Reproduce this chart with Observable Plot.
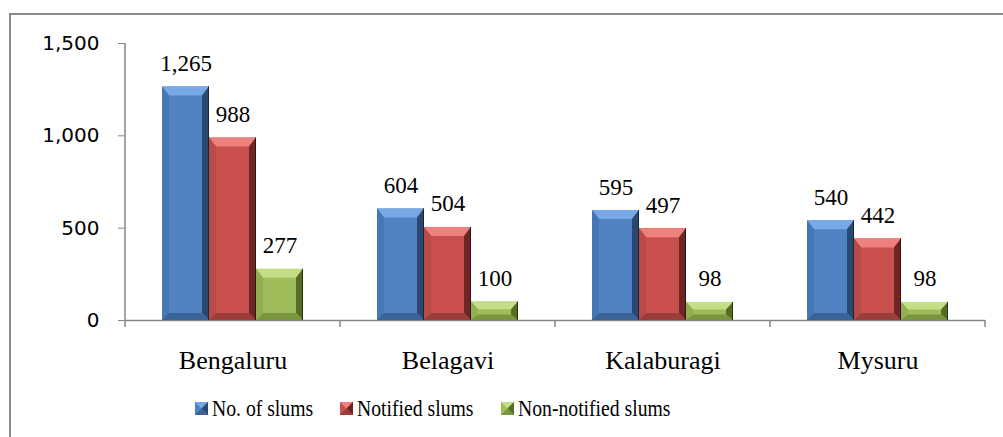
<!DOCTYPE html>
<html>
<head>
<meta charset="utf-8">
<script src="https://cdn.jsdelivr.net/npm/d3@7"></script>
<script src="https://cdn.jsdelivr.net/npm/@observablehq/plot@0.6"></script>
<style>
  body { margin: 0; background: #fff; }
  #wrap { position: relative; width: 1003px; height: 437px; overflow: hidden; background: #fff; }
  #border { position: absolute; left: 9px; top: 13px; width: 1200px; height: 700px; border: 2px solid #8c8c8c; box-sizing: border-box; }
  #chart { position: absolute; left: 0; top: 0; }
  #legend { position: absolute; left: 0; top: 395px; width: 1003px; height: 26px; display: flex; align-items: center; padding-left: 195px; box-sizing: border-box;
            font-family: "Liberation Serif", "Times New Roman", serif; font-size: 24px; color: #000; line-height: 1; }
  .item { display: inline-flex; align-items: center; margin-right: 27px; white-space: nowrap; }
  .item svg { margin-right: 4px; }
  .item span { display: inline-block; transform: scaleX(0.82); transform-origin: left center; }
</style>
</head>
<body>
<div id="wrap">
  <div id="border"></div>
  <div id="chart"></div>
  <div id="legend"></div>
</div>
<script>
// ---- data ----
const cities = ["Bengaluru", "Belagavi", "Kalaburagi", "Mysuru"];
const seriesNames = ["No. of slums", "Notified slums", "Non-notified slums"];
const totalSlums = [1265, 604, 595, 540];
const notifiedSlums = [988, 504, 497, 442];
const nonNotifiedSlums = [277, 100, 98, 98];
const yTicks = [0, 500, 1000, 1500];

const seriesValues = [totalSlums, notifiedSlums, nonNotifiedSlums];
const table = [];
cities.forEach((c, ci) => seriesNames.forEach((s, si) => table.push({city: c, series: s, value: seriesValues[si][ci]})));

// ---- styles ----
const faceColors = ["#5183c4", "#c9504d", "#9ebd5a"];
const shades = {
  "#5183c4": {top: "#78a8e6", left: "#4676b3", right: "#2a4870", edge: "#16263c", bottom: "#3c6396"},
  "#c9504d": {top: "#ee807d", left: "#b84a47", right: "#6e2624", edge: "#351110", bottom: "#9a3e3c"},
  "#9ebd5a": {top: "#c3de86", left: "#91af51", right: "#566c25", edge: "#2a3510", bottom: "#7a9540"}
};
const axisGray = "#868686";
const fmt = d3.format(",");

function bevel(index, scales, values, dimensions, context, next) {
  const g = next(index, scales, values, dimensions, context);
  const ns = "http://www.w3.org/2000/svg";
  const rects = Array.from(g.querySelectorAll("rect"));
  for (const r of rects) {
    const x = +r.getAttribute("x"), y = +r.getAttribute("y");
    const w = +r.getAttribute("width"), h = +r.getAttribute("height");
    const sh = shades[r.getAttribute("fill")];
    if (!sh) continue;
    const bs = Math.min(7, w / 4), bt = Math.min(9, h * 0.42), bb = Math.min(7, h * 0.3);
    const polys = [
      [[x, y], [x + w, y], [x + w - bs, y + bt], [x + bs, y + bt], sh.top],
      [[x, y], [x + bs, y + bt], [x + bs, y + h - bb], [x, y + h], sh.left],
      [[x + w, y], [x + w, y + h], [x + w - bs, y + h - bb], [x + w - bs, y + bt], sh.right],
      [[x, y + h], [x + bs, y + h - bb], [x + w - bs, y + h - bb], [x + w, y + h], sh.bottom]
    ];
    let after = r;
    for (const p of polys) {
      const el = document.createElementNS(ns, "polygon");
      el.setAttribute("points", p.slice(0, 4).map(q => q.join(",")).join(" "));
      el.setAttribute("fill", p[4]);
      after.after(el); after = el;
    }
    const edge = document.createElementNS(ns, "line");
    edge.setAttribute("x1", x + w - 0.5); edge.setAttribute("x2", x + w - 0.5);
    edge.setAttribute("y1", y); edge.setAttribute("y2", y + h);
    edge.setAttribute("stroke", sh.edge); edge.setAttribute("stroke-width", 1);
    after.after(edge);
  }
  return g;
}

const chart = Plot.plot({
  width: 1003,
  height: 385,
  marginLeft: 125,
  marginRight: 18,
  marginTop: 43,
  marginBottom: 65,
  style: {background: "transparent", overflow: "visible"},
  fx: {domain: cities, padding: 0, label: null},
  x: {domain: seriesNames, paddingInner: 0, paddingOuter: 0.74, axis: null},
  y: {domain: [0, 1500], axis: null},
  color: {domain: seriesNames, range: faceColors},
  marks: [
    Plot.ruleY([0], {stroke: axisGray, strokeWidth: 1.5}),
    Plot.barY(table, {fx: "city", x: "series", y: "value", fill: "series", render: bevel}),
    Plot.text(table, {fx: "city", x: "series", y: "value", text: d => fmt(d.value), lineAnchor: "bottom", dy: -16,
      fontFamily: "Liberation Serif, Times New Roman, serif", fontSize: 23, fill: "#000"}),
    Plot.axisY({ticks: yTicks, tickFormat: fmt, tickSize: 7, tickPadding: 19, fontSize: 20,
      fontFamily: "DejaVu Sans, sans-serif", stroke: axisGray, fill: "#000", label: null}),
    Plot.axisFx({anchor: "bottom", tickSize: 0, tickPadding: 30, fontSize: 26,
      fontFamily: "Liberation Serif, Times New Roman, serif", fill: "#000", label: null})
  ]
});
document.getElementById("chart").appendChild(chart);

// axis lines and category boundary ticks, positioned via the plot's own scales
(function () {
  const ns = "http://www.w3.org/2000/svg";
  const fx = chart.scale("fx"), y = chart.scale("y");
  const y0 = y.apply(0), yTop = y.apply(1500);
  const bounds = cities.map(c => fx.apply(c));
  bounds.push(fx.apply(cities[cities.length - 1]) + fx.bandwidth);
  const g = document.createElementNS(ns, "g");
  g.setAttribute("stroke", axisGray);
  g.setAttribute("stroke-width", 1.5);
  const vl = document.createElementNS(ns, "line");
  vl.setAttribute("x1", bounds[0]); vl.setAttribute("x2", bounds[0]);
  vl.setAttribute("y1", yTop); vl.setAttribute("y2", y0);
  g.appendChild(vl);
  for (const b of bounds) {
    const t = document.createElementNS(ns, "line");
    t.setAttribute("x1", b); t.setAttribute("x2", b);
    t.setAttribute("y1", y0); t.setAttribute("y2", y0 + 7);
    g.appendChild(t);
  }
  chart.appendChild(g);
})();

// legend
const legend = document.getElementById("legend");
seriesNames.forEach((s, i) => {
  const sh = shades[faceColors[i]];
  const item = document.createElement("div");
  item.className = "item";
  item.innerHTML = `<svg width="13" height="13" viewBox="0 0 13 13">
      <rect width="13" height="13" fill="${faceColors[i]}"/>
      <polygon points="0,0 13,0 6.5,6.5" fill="${sh.top}"/>
      <polygon points="13,0 13,13 6.5,6.5" fill="${sh.right}"/>
      <polygon points="0,13 13,13 6.5,6.5" fill="${sh.bottom}"/>
    </svg><span>${s}</span>`;
  legend.appendChild(item);
});
legend.querySelectorAll(".item span").forEach(sp => {
  sp.style.marginRight = (-(1 - 0.82) * sp.offsetWidth) + "px";
});
</script>
</body>
</html>
